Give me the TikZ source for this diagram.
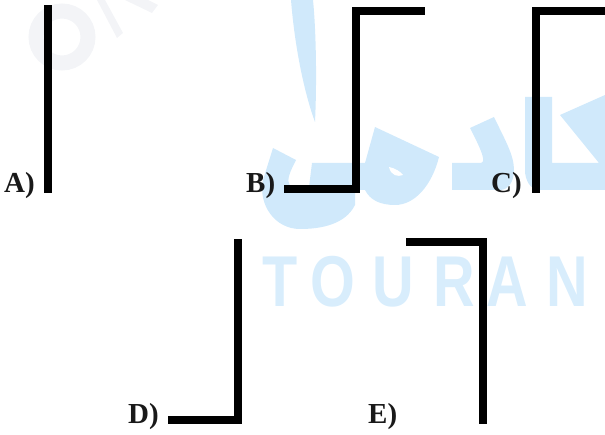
\documentclass[tikz,border=0pt]{standalone}
\usepackage{fontspec}
\setmainfont{Liberation Serif}
\newfontfamily\marksans{Liberation Sans}
\definecolor{markblue}{HTML}{D0E9FB}
\definecolor{markname}{HTML}{D8EDFC}
\definecolor{markgray}{HTML}{F3F4F7}

\begin{document}
\begin{tikzpicture}[
    x=1pt, y=-1pt,
    bar/.style={line width=8pt, line cap=butt, line join=miter, black},
    choice/.style={font=\fontsize{29}{29}\selectfont\bfseries, anchor=base west, inner sep=0pt, text=black!90},
    markletter/.style={font=\marksans\bfseries\fontsize{72}{72}\selectfont, anchor=base, inner sep=0pt, text=markname, xscale=0.8}
  ]
    \useasboundingbox (0,0) rectangle (605,435);

    % Gray letters (top left)
    \draw[markgray, line width=15pt] (62,37) circle (26);
    \fill[markgray] (97,0) -- (117,38) -- (123,33) -- (105,0) -- cycle;
    \fill[markgray] (125,0) -- (152,13) -- (158,5) -- (148,0) -- cycle;

    % Blue sign
    \fill[markblue] (291,0) .. controls (295,50) and (305,95) .. (315,122)
      .. controls (317,80) and (316,30) .. (313,0) -- cycle;
    \fill[markblue] (273,148) -- (296,160) .. controls (290,172) and (286,180) .. (290,186)
      .. controls (295,195) and (304,194) .. (309,187) -- (312,163) -- (365,163) -- (375,127)
      -- (439,157) .. controls (432,185) and (415,205) .. (395,205)
      .. controls (380,205) and (370,200) .. (365,190) -- (355,190) -- (355,205)
      .. controls (345,225) and (320,229) .. (300,229)
      .. controls (275,229) and (258,205) .. (263,180) -- cycle;
    \fill[white] (389,167) .. controls (395,168) and (401,172) .. (403,175)
      .. controls (398,177) and (391,176) .. (389,167) -- cycle;
    \fill[markblue] (470,128) -- (494,117) .. controls (505,140) and (514,155) .. (514,170)
      .. controls (514,182) and (508,190) .. (500,190) -- (452,190) -- (452,163) -- (480,163)
      .. controls (486,163) and (484,155) .. (470,128) -- cycle;
    \fill[markblue] (525,97) -- (552,97) -- (552,163) -- (599,163) -- (560,115) -- (605,95)
      -- (605,190) -- (540,190) .. controls (530,190) and (525,180) .. (525,170) -- cycle;

    % Blue name
    \node[markletter] (t1) at (280,307) {T};
    \node[markletter] (t2) at (333,307) {O};
    \node[markletter] (t3) at (393,307) {U};
    \node[markletter] (t4) at (454,307) {R};
    \node[markletter] (t5) at (507,307) {A};
    \node[markletter] (t6) at (567,307) {N};

    % Choices, top row
    \node[choice] (labelA) at (4,193) {A)};
    \draw[bar] (48,5.5) -- (48,193);

    \node[choice] (labelB) at (246,193) {B)};
    \draw[bar] (284,189) -- (355.5,189) -- (355.5,11.5) -- (425,11.5);

    \node[choice] (labelC) at (491,193) {C)};
    \draw[bar] (536,193) -- (536,11) -- (605,11);

    % Choices, bottom row
    \node[choice] (labelD) at (128,424) {D)};
    \draw[bar] (168,420) -- (238,420) -- (238,239);

    \node[choice] (labelE) at (368,424) {E)};
    \draw[bar] (406,242) -- (483,242) -- (483,424);

  \end{tikzpicture}
\end{document}
